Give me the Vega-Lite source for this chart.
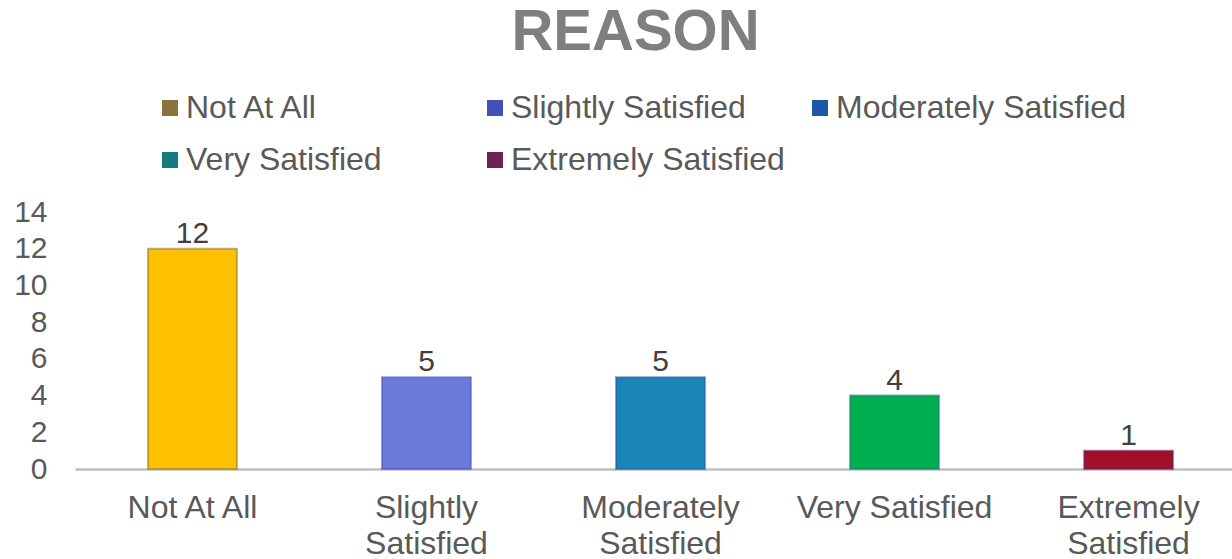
{
  "$schema": "https://vega.github.io/schema/vega-lite/v6.json",
  "autosize": {"type": "none"},
  "width": 1157,
  "height": 257,
  "padding": {"left": 75, "top": 212, "right": 0, "bottom": 90},
  "background": "white",
  "title": {
    "text": "REASON",
    "font": "Liberation Sans",
    "fontSize": 58,
    "fontWeight": "bold",
    "color": "#7F7F7F",
    "anchor": "middle",
    "frame": "group",
    "dx": -18,
    "offset": 30,
    "limit": 0
  },
  "config": {
    "view": {"stroke": null},
    "font": "Liberation Sans",
    "text": {"font": "Liberation Sans"},
    "legend": {"labelFont": "Liberation Sans"},
    "axisY": {"labelOverlap": false}
  },
  "datasets": {
    "bars": [
      {"category": "Not At All", "count": 12},
      {"category": "Slightly Satisfied", "count": 5},
      {"category": "Moderately Satisfied", "count": 5},
      {"category": "Very Satisfied", "count": 4},
      {"category": "Extremely Satisfied", "count": 1}
    ],
    "legendItems": [
      {"level": "Not At All"},
      {"level": "Slightly Satisfied"},
      {"level": "Moderately Satisfied"},
      {"level": "Very Satisfied"},
      {"level": "Extremely Satisfied"}
    ]
  },
  "layer": [
    {
      "data": {"name": "bars"},
      "mark": {"type": "bar", "strokeWidth": 2, "strokeOpacity": 0.55},
      "encoding": {
        "x": {
          "field": "category",
          "type": "nominal",
          "sort": null,
          "scale": {"paddingInner": 0.62, "paddingOuter": 0.282, "align": 0.553},
          "axis": {
            "title": null,
            "labelAngle": 0,
            "labelFont": "Liberation Sans",
            "labelFontSize": 32,
            "labelColor": "#595959",
            "labelPadding": 23,
            "labelLineHeight": 36,
            "labelLimit": 400,
            "labelExpr": "datum.label == 'Not At All' || datum.label == 'Very Satisfied' ? datum.label : split(datum.label, ' ')",
            "ticks": false,
            "domainColor": "#BFBFBF",
            "domainWidth": 2.5,
            "grid": false
          }
        },
        "y": {
          "field": "count",
          "type": "quantitative",
          "scale": {"domain": [0, 14]},
          "axis": {
            "title": null,
            "values": [0, 2, 4, 6, 8, 10, 12, 14],
            "labelOverlap": false,
            "labelFont": "Liberation Sans",
            "labelFontSize": 30,
            "labelColor": "#595959",
            "labelPadding": 28,
            "ticks": false,
            "domain": false,
            "grid": false
          }
        },
        "fill": {
          "field": "category",
          "type": "nominal",
          "sort": null,
          "legend": null,
          "scale": {
            "domain": ["Not At All", "Slightly Satisfied", "Moderately Satisfied", "Very Satisfied", "Extremely Satisfied"],
            "range": ["#FFC000", "#6A7BDC", "#1A86B8", "#00B050", "#A0102C"]
          }
        },
        "stroke": {
          "field": "category",
          "type": "nominal",
          "sort": null,
          "legend": null,
          "scale": {
            "domain": ["Not At All", "Slightly Satisfied", "Moderately Satisfied", "Very Satisfied", "Extremely Satisfied"],
            "range": ["#8B7340", "#4151B5", "#1F56A5", "#167A7A", "#6E1F56"]
          }
        }
      }
    },
    {
      "data": {"name": "bars"},
      "mark": {"type": "text", "baseline": "alphabetic", "dy": -6, "fontSize": 30, "color": "#404040", "font": "Liberation Sans"},
      "encoding": {
        "x": {"field": "category", "type": "nominal", "sort": null},
        "y": {
          "field": "count",
          "type": "quantitative",
          "axis": {
            "title": null,
            "values": [0, 2, 4, 6, 8, 10, 12, 14],
            "labelOverlap": false,
            "labelFont": "Liberation Sans",
            "labelFontSize": 30,
            "labelColor": "#595959",
            "labelPadding": 28,
            "ticks": false,
            "domain": false,
            "grid": false
          }
        },
        "text": {"field": "count", "type": "quantitative"}
      }
    },
    {
      "data": {"name": "legendItems"},
      "mark": {"type": "square", "opacity": 0, "filled": true},
      "encoding": {
        "color": {
          "field": "level",
          "type": "nominal",
          "sort": null,
          "scale": {
            "domain": ["Not At All", "Slightly Satisfied", "Moderately Satisfied", "Very Satisfied", "Extremely Satisfied"],
            "range": ["#8B7340", "#4151B5", "#1F56A5", "#167A7A", "#6E1F56"]
          },
          "legend": {
            "title": null,
            "orient": "none",
            "legendX": 79,
            "legendY": -120,
            "direction": "horizontal",
            "columns": 3,
            "gridAlign": "all",
            "columnPadding": 3,
            "rowPadding": 20,
            "symbolType": "square",
            "symbolSize": 256,
            "symbolOpacity": 1,
            "symbolStrokeWidth": 0,
            "labelFont": "Liberation Sans",
            "labelFontSize": 32,
            "labelColor": "#595959",
            "labelOffset": 0,
            "labelLimit": 400
          }
        }
      }
    }
  ],
  "resolve": {"scale": {"color": "independent"}}
}
